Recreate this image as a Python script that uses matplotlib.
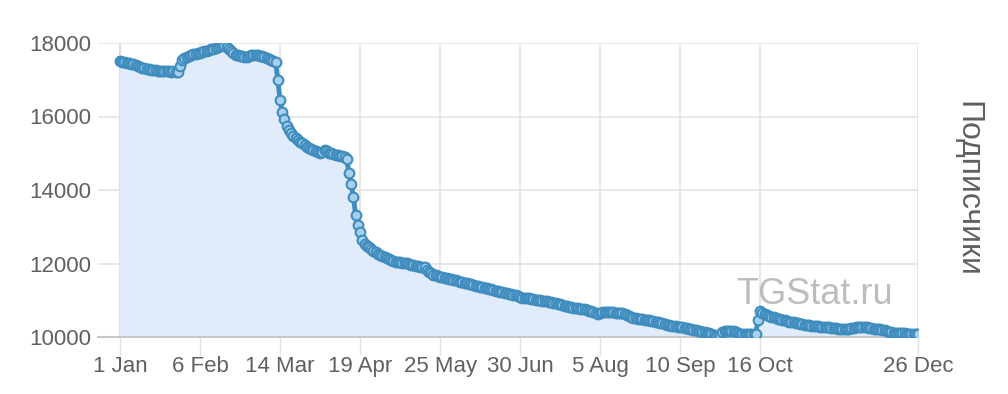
import numpy as np
import matplotlib.pyplot as plt

# daily subscriber counts, 1 Jan .. 26 Dec
jan = [17500, 17490, 17470, 17460, 17450, 17430, 17420, 17400, 17370, 17350,
       17330, 17310, 17290, 17280, 17270, 17260, 17260, 17250, 17250, 17240,
       17240, 17230, 17230, 17220, 17230, 17220, 17220, 17380, 17530, 17600, 17630]
feb = [17650, 17670, 17690, 17700, 17720, 17740, 17760, 17770, 17790, 17810,
       17830, 17850, 17870, 17900, 17930, 17945, 17930, 17900, 17840, 17780,
       17720, 17670, 17660, 17650, 17640, 17630, 17630, 17650]
mar = [17660, 17670, 17675, 17660, 17650, 17640, 17610, 17585, 17560, 17540,
       17520, 17490, 16990, 16450, 16130, 15930, 15740, 15640, 15550, 15480,
       15420, 15360, 15315, 15270, 15220, 15180, 15140, 15110, 15080, 15050, 15030]
apr = [15005, 15040, 15090, 15050, 15020, 15000, 14980, 14960, 14950, 14930,
       14920, 14905, 14840, 14460, 14150, 13820, 13320, 13050, 12865, 12640,
       12520, 12480, 12455, 12400, 12340, 12300, 12270, 12230, 12200, 12170]
may = [12140, 12120, 12090, 12070, 12050, 12040, 12030, 12020, 12010, 12005,
       11990, 11970, 11950, 11930, 11920, 11910, 11900, 11895, 11820, 11770,
       11730, 11700, 11680, 11660, 11640, 11630, 11610, 11600, 11590, 11570, 11560]
jun = [11550, 11530, 11510, 11500, 11480, 11470, 11450, 11430, 11415, 11400,
       11390, 11370, 11360, 11340, 11325, 11310, 11300, 11280, 11260, 11250,
       11235, 11220, 11200, 11190, 11170, 11160, 11145, 11130, 11110, 11090]
jul = [11070, 11060, 11050, 11050, 11040, 11030, 11020, 11010, 11000, 10990,
       10980, 10970, 10960, 10950, 10930, 10920, 10900, 10890, 10870, 10850,
       10840, 10825, 10810, 10800, 10790, 10780, 10770, 10760, 10750, 10735, 10720]
aug = [10700, 10680, 10650, 10625, 10650, 10680, 10690, 10690, 10680, 10670,
       10670, 10660, 10660, 10650, 10645, 10620, 10600, 10570, 10550, 10530,
       10510, 10500, 10490, 10480, 10470, 10460, 10450, 10440, 10435, 10420, 10400]
sep = [10390, 10370, 10350, 10340, 10325, 10310, 10300, 10290, 10280, 10270,
       10260, 10250, 10235, 10220, 10210, 10200, 10180, 10170, 10160, 10145,
       10130, 10110, 10100, 10080, 10060, 10040, 10010, 10060, 10145, 10160]
oct_ = [10170, 10170, 10170, 10170, 10140, 10110, 10090, 10090, 10090, 10090,
        10090, 10090, 10090, 10090, 10460, 10715, 10660, 10620, 10590, 10570,
        10550, 10540, 10520, 10500, 10480, 10470, 10450, 10430, 10420, 10410, 10400]
nov = [10390, 10370, 10360, 10350, 10340, 10325, 10320, 10310, 10300, 10290,
       10290, 10280, 10280, 10270, 10265, 10260, 10250, 10240, 10240, 10230,
       10220, 10220, 10210, 10210, 10220, 10240, 10250, 10260, 10270, 10280]
dec = [10280, 10270, 10260, 10250, 10240, 10230, 10220, 10210, 10210, 10200,
       10180, 10160, 10140, 10130, 10120, 10115, 10110, 10100, 10100, 10100,
       10090, 10090, 10090, 10090, 10090, 10090]

tick_days = [0, 36, 72, 108, 144, 180, 216, 252, 288, 359]
tick_labels = ["1 Jan", "6 Feb", "14 Mar", "19 Apr", "25 May", "30 Jun",
               "5 Aug", "10 Sep", "16 Oct", "26 Dec"]
y_ticks = [10000, 12000, 14000, 16000, 18000]

values = np.array(jan + feb + mar + apr + may + jun + jul + aug + sep + oct_ + nov + dec)
days = np.arange(len(values))

plt.rcParams['font.family'] = ['Liberation Sans', 'DejaVu Sans']

fig = plt.figure(figsize=(10.08, 3.94), dpi=100)
ax = fig.add_axes([98 / 1008, 57 / 394, 820 / 1008, 294 / 394])

ax.fill_between(days, values, 10000, color='#e1ecfa', zorder=1)
ax.plot(days, values, color='#3f8cbf', lw=3.5, zorder=3,
        marker='o', ms=7, mfc='#a8d0ec', mec='#3f8cbf', mew=1.5)

ax.set_xlim(-9.9, 359)
ax.set_ylim(10000, 18000)
ax.set_xticks(tick_days)
ax.set_xticklabels(tick_labels)
ax.set_yticks(y_ticks)
ax.grid(True, color='#e3e3e3', lw=1.2, zorder=0)
ax.set_axisbelow(True)

for s in ['top', 'right', 'left']:
    ax.spines[s].set_visible(False)
ax.spines['bottom'].set_color('#c8c8c8')
ax.spines['bottom'].set_linewidth(1.5)
ax.axvline(0, color='#c8c8c8', lw=1.5, zorder=0.5)

ax.tick_params(axis='x', length=13, width=1, color='#e3e3e3', colors='#606060',
               labelsize=16, pad=1)
ax.tick_params(axis='y', length=0, colors='#606060', labelsize=16, pad=5)

ax.text(815, 394 - 295, "TGStat.ru", transform=None, fontsize=26, color='#bdbdbd',
        ha='center', va='center')
fig.text(967 / 1008, 1 - 189 / 394, "Подписчики", rotation=-90, fontsize=23,
         color='#606060', ha='center', va='center')

fig.savefig("out.png", dpi=100)
